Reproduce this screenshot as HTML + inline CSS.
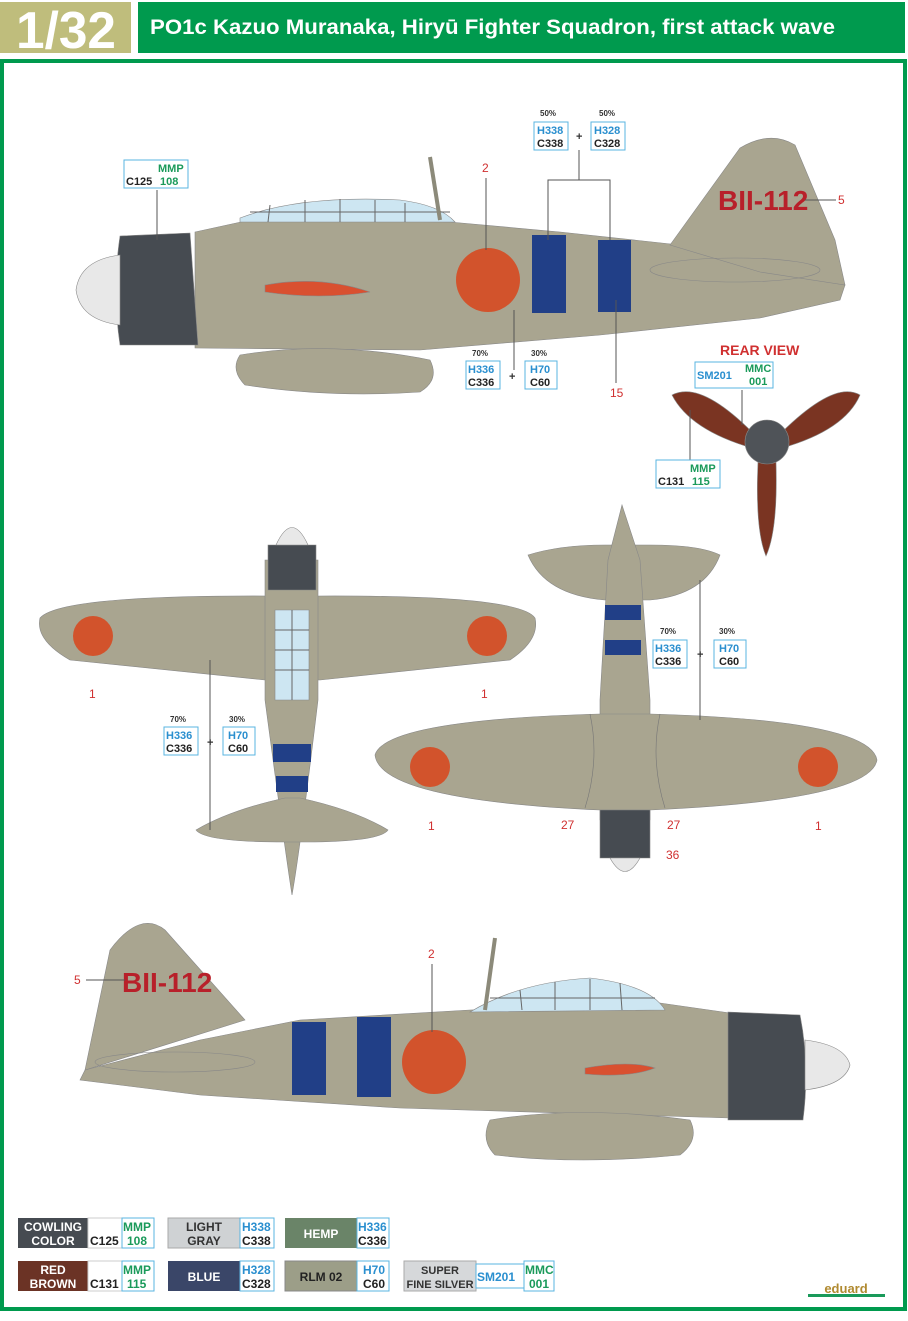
<!DOCTYPE html>
<html><head><meta charset="utf-8"><style>
html,body{margin:0;padding:0;background:#fff}
body{width:908px;height:1316px;position:relative;overflow:hidden;font-family:"Liberation Sans",sans-serif}
svg text{font-family:"Liberation Sans",sans-serif}
</style></head><body>
<svg width="908" height="1316" viewBox="0 0 908 1316" xmlns="http://www.w3.org/2000/svg">
<!-- header -->
<rect x="0" y="2" width="131" height="51" fill="#bfbd7c"/>
<text x="66" y="48" font-size="52" font-weight="bold" fill="#fff" text-anchor="middle" textLength="100" lengthAdjust="spacingAndGlyphs">1/32</text>
<rect x="138" y="2" width="767" height="51" fill="#009a4e"/>
<text x="150" y="34" font-size="21" font-weight="bold" fill="#fff" textLength="685" lengthAdjust="spacingAndGlyphs">PO1c Kazuo Muranaka, Hiryū Fighter Squadron, first attack wave</text>
<rect x="2" y="61" width="903" height="1248" fill="none" stroke="#009a4e" stroke-width="4"/>

<g stroke="#888" stroke-width="0.6">
<!-- ===== top side view ===== -->
<path d="M195 232 L250 220 L450 222 L560 232 L680 245 L760 270 L845 285 L840 300 L760 318 L600 335 L420 350 L195 348 Z" fill="#a9a590"/>
<path d="M670 245 L740 148 Q770 130 795 145 L835 240 L845 285 L760 272 Z" fill="#a9a590"/>
<path d="M240 218 Q300 195 400 200 Q440 205 455 222 L240 222Z" fill="#cde6f2"/>
<g stroke="#666" stroke-width="1"><line x1="270" y1="205" x2="268" y2="222"/><line x1="305" y1="200" x2="305" y2="222"/><line x1="340" y1="199" x2="340" y2="222"/><line x1="375" y1="200" x2="375" y2="222"/><line x1="405" y1="203" x2="405" y2="222"/><line x1="250" y1="212" x2="450" y2="212"/></g>
<line x1="440" y1="220" x2="430" y2="157" stroke="#8c8a7a" stroke-width="4"/>
<path d="M120 236 L190 233 L198 345 L120 345 Q112 290 120 236Z" fill="#464b51"/>
<path d="M120 255 Q80 260 76 290 Q80 320 120 325Z" fill="#e8e8e8"/>
<path d="M240 355 Q330 340 430 360 Q440 380 420 392 Q330 398 245 385 Q230 370 240 355Z" fill="#a9a590"/>
<path d="M265 285 Q320 275 370 292 Q320 300 265 292Z" fill="#d95030"/>
<circle cx="488" cy="280" r="32" fill="#d2532c" stroke="none"/>
<rect x="532" y="235" width="34" height="78" fill="#213f87" stroke="none"/>
<rect x="598" y="240" width="33" height="72" fill="#213f87" stroke="none"/>
<ellipse cx="735" cy="270" rx="85" ry="12" fill="none"/>

<!-- rear view -->
<path d="M752 432 Q700 380 672 395 Q690 430 752 448Z" fill="#7a3422"/>
<path d="M782 432 Q835 380 860 395 Q845 430 782 448Z" fill="#7a3422"/>
<path d="M758 462 Q755 530 766 556 Q778 530 776 462Z" fill="#7a3422"/>
<circle cx="767" cy="442" r="22" fill="#4f5358"/>

<!-- top view (left) -->
<path d="M40 618 Q60 595 270 596 L318 596 Q520 595 535 618 Q540 640 510 660 L320 680 L265 680 L70 660 Q35 640 40 618Z" fill="#a9a590"/>
<path d="M265 560 L318 560 L318 700 Q300 850 292 895 Q285 850 265 700Z" fill="#a9a590"/>
<path d="M196 830 Q230 810 285 798 L300 798 Q355 810 388 830 Q380 842 300 842 L285 842 Q205 842 196 830Z" fill="#a9a590"/>
<path d="M268 545 L316 545 L316 590 L268 590Z" fill="#464b51"/>
<path d="M276 545 Q292 510 308 545Z" fill="#e8e8e8"/>
<path d="M275 610 L309 610 L309 700 L275 700Z" fill="#cde6f2"/>
<g stroke="#666" stroke-width="1"><line x1="292" y1="610" x2="292" y2="700"/><line x1="275" y1="630" x2="309" y2="630"/><line x1="275" y1="650" x2="309" y2="650"/><line x1="275" y1="670" x2="309" y2="670"/></g>
<rect x="273" y="744" width="38" height="18" fill="#213f87" stroke="none"/>
<rect x="276" y="776" width="32" height="16" fill="#213f87" stroke="none"/>
<circle cx="93" cy="636" r="20" fill="#d2532c" stroke="none"/>
<circle cx="487" cy="636" r="20" fill="#d2532c" stroke="none"/>

<!-- bottom view (right) -->
<path d="M528 555 Q560 545 605 545 L650 545 Q700 545 720 555 Q705 595 650 600 L605 600 Q545 595 528 555Z" fill="#a9a590"/>
<path d="M608 560 L622 505 L640 560 L650 700 L650 820 L600 820 L600 700Z" fill="#a9a590"/>
<path d="M375 755 Q385 720 600 714 L650 714 Q870 720 877 760 Q870 800 650 810 L600 810 Q380 800 375 755Z" fill="#a9a590"/>
<path d="M600 810 L650 810 L650 858 L600 858Z" fill="#464b51"/>
<path d="M610 858 Q625 885 640 858Z" fill="#e8e8e8"/>
<rect x="605" y="605" width="36" height="15" fill="#213f87" stroke="none"/>
<rect x="605" y="640" width="36" height="15" fill="#213f87" stroke="none"/>
<circle cx="430" cy="767" r="20" fill="#d2532c" stroke="none"/>
<circle cx="818" cy="767" r="20" fill="#d2532c" stroke="none"/>
<path d="M590 714 Q600 760 585 808 M660 714 Q650 760 665 808" fill="none" stroke="#777"/>

<!-- bottom side view -->
<path d="M730 1013 L660 1003 L470 1010 L300 1020 L200 1040 L85 1070 L80 1080 L200 1095 L400 1108 L730 1118 Z" fill="#a9a590"/>
<path d="M85 1070 L110 950 Q140 910 165 930 L245 1020 Z" fill="#a9a590"/>
<path d="M470 1012 Q520 982 590 978 Q650 985 665 1010Z" fill="#cde6f2"/>
<g stroke="#666" stroke-width="1"><line x1="520" y1="990" x2="522" y2="1010"/><line x1="555" y1="982" x2="555" y2="1010"/><line x1="590" y1="979" x2="590" y2="1010"/><line x1="620" y1="983" x2="622" y2="1010"/><line x1="490" y1="998" x2="655" y2="998"/></g>
<line x1="485" y1="1010" x2="495" y2="938" stroke="#8c8a7a" stroke-width="4"/>
<path d="M728 1012 L800 1015 Q810 1065 803 1120 L728 1120Z" fill="#464b51"/>
<path d="M805 1040 Q845 1045 850 1065 Q845 1085 805 1090Z" fill="#e8e8e8"/>
<path d="M490 1120 Q580 1105 690 1120 Q700 1140 680 1155 Q580 1165 495 1155 Q480 1140 490 1120Z" fill="#a9a590"/>
<path d="M585 1068 Q630 1060 655 1068 Q630 1078 585 1074Z" fill="#d95030"/>
<circle cx="434" cy="1062" r="32" fill="#d2532c" stroke="none"/>
<rect x="292" y="1022" width="34" height="73" fill="#213f87" stroke="none"/>
<rect x="357" y="1017" width="34" height="80" fill="#213f87" stroke="none"/>
<ellipse cx="175" cy="1062" rx="80" ry="10" fill="none"/>
</g>

<!-- labels -->
<g font-weight="bold">
<text x="718" y="210" font-size="28" fill="#b8202a">BII-112</text>
<text x="122" y="992" font-size="28" fill="#b8202a">BII-112</text>
<text x="720" y="355" font-size="14" fill="#d03030">REAR VIEW</text>
</g>
<g font-size="12" fill="#d03030">
<text x="482" y="172">2</text><text x="838" y="204">5</text><text x="610" y="397">15</text>
<text x="89" y="698">1</text><text x="481" y="698">1</text><text x="428" y="830">1</text><text x="815" y="830">1</text>
<text x="561" y="829">27</text><text x="667" y="829">27</text><text x="666" y="859">36</text>
<text x="428" y="958">2</text><text x="74" y="984">5</text>
</g>
<g stroke="#555" stroke-width="1" fill="none">
<line x1="486" y1="178" x2="486" y2="250"/><line x1="805" y1="200" x2="836" y2="200"/>
<line x1="616" y1="300" x2="616" y2="383"/><line x1="432" y1="964" x2="432" y2="1032"/>
<line x1="86" y1="980" x2="125" y2="980"/>
<polyline points="548,240 548,180 610,180 610,240"/><line x1="579" y1="150" x2="579" y2="180"/>
<line x1="514" y1="310" x2="514" y2="370"/><line x1="157" y1="190" x2="157" y2="240"/>
<line x1="742" y1="390" x2="742" y2="425"/><line x1="690" y1="410" x2="690" y2="460"/>
<line x1="210" y1="660" x2="210" y2="830"/><line x1="700" y1="580" x2="700" y2="720"/>
</g>
<g font-size="11" font-weight="bold">
<rect x="534" y="122" width="34" height="28" fill="#fff" stroke="#5ab4e0"/><text x="537" y="134" fill="#2a8fcf">H338</text><text x="537" y="147" fill="#222">C338</text>
<rect x="591" y="122" width="34" height="28" fill="#fff" stroke="#5ab4e0"/><text x="594" y="134" fill="#2a8fcf">H328</text><text x="594" y="147" fill="#222">C328</text>
<text x="540" y="116" font-size="8" fill="#333">50%</text><text x="599" y="116" font-size="8" fill="#333">50%</text><text x="576" y="140" fill="#333">+</text>
<rect x="124" y="160" width="64" height="28" fill="#fff" stroke="#5ab4e0"/><text x="158" y="172" fill="#1a9a5a">MMP</text><text x="126" y="185" fill="#222">C125</text><text x="160" y="185" fill="#1a9a5a">108</text>
<rect x="466" y="361" width="34" height="28" fill="#fff" stroke="#5ab4e0"/><text x="468" y="373" fill="#2a8fcf">H336</text><text x="468" y="386" fill="#222">C336</text>
<rect x="525" y="361" width="32" height="28" fill="#fff" stroke="#5ab4e0"/><text x="530" y="373" fill="#2a8fcf">H70</text><text x="530" y="386" fill="#222">C60</text>
<text x="472" y="356" font-size="8" fill="#333">70%</text><text x="531" y="356" font-size="8" fill="#333">30%</text><text x="509" y="380" fill="#333">+</text>
<rect x="695" y="362" width="78" height="26" fill="#fff" stroke="#5ab4e0"/><text x="697" y="379" fill="#2a8fcf">SM201</text><text x="745" y="372" fill="#1a9a5a">MMC</text><text x="749" y="385" fill="#1a9a5a">001</text>
<rect x="656" y="460" width="64" height="28" fill="#fff" stroke="#5ab4e0"/><text x="690" y="472" fill="#1a9a5a">MMP</text><text x="658" y="485" fill="#222">C131</text><text x="692" y="485" fill="#1a9a5a">115</text>
<rect x="164" y="727" width="34" height="28" fill="#fff" stroke="#5ab4e0"/><text x="166" y="739" fill="#2a8fcf">H336</text><text x="166" y="752" fill="#222">C336</text>
<rect x="223" y="727" width="32" height="28" fill="#fff" stroke="#5ab4e0"/><text x="228" y="739" fill="#2a8fcf">H70</text><text x="228" y="752" fill="#222">C60</text>
<text x="170" y="722" font-size="8" fill="#333">70%</text><text x="229" y="722" font-size="8" fill="#333">30%</text><text x="207" y="746" fill="#333">+</text>
<rect x="653" y="640" width="34" height="28" fill="#fff" stroke="#5ab4e0"/><text x="655" y="652" fill="#2a8fcf">H336</text><text x="655" y="665" fill="#222">C336</text>
<rect x="714" y="640" width="32" height="28" fill="#fff" stroke="#5ab4e0"/><text x="719" y="652" fill="#2a8fcf">H70</text><text x="719" y="665" fill="#222">C60</text>
<text x="660" y="634" font-size="8" fill="#333">70%</text><text x="719" y="634" font-size="8" fill="#333">30%</text><text x="697" y="658" fill="#333">+</text>
</g>

<!-- legend -->
<g font-size="12" font-weight="bold">
<rect x="18" y="1218" width="70" height="30" fill="#464b51"/><text x="53" y="1231" fill="#fff" text-anchor="middle">COWLING</text><text x="53" y="1245" fill="#fff" text-anchor="middle">COLOR</text>
<rect x="88" y="1218" width="34" height="30" fill="#fff" stroke="#ccc"/><text x="90" y="1245" fill="#222">C125</text>
<rect x="122" y="1218" width="32" height="30" fill="#fff" stroke="#5ab4e0"/><text x="123" y="1231" fill="#1a9a5a">MMP</text><text x="127" y="1245" fill="#1a9a5a">108</text>
<rect x="168" y="1218" width="72" height="30" fill="#cfd2d4" stroke="#aaa"/><text x="204" y="1231" fill="#333" text-anchor="middle">LIGHT</text><text x="204" y="1245" fill="#333" text-anchor="middle">GRAY</text>
<rect x="240" y="1218" width="34" height="30" fill="#fff" stroke="#5ab4e0"/><text x="242" y="1231" fill="#2a8fcf">H338</text><text x="242" y="1245" fill="#222">C338</text>
<rect x="285" y="1218" width="72" height="30" fill="#6a8468"/><text x="321" y="1238" fill="#fff" text-anchor="middle">HEMP</text>
<rect x="357" y="1218" width="32" height="30" fill="#fff" stroke="#5ab4e0"/><text x="358" y="1231" fill="#2a8fcf">H336</text><text x="358" y="1245" fill="#222">C336</text>
<rect x="18" y="1261" width="70" height="30" fill="#6b3325"/><text x="53" y="1274" fill="#fff" text-anchor="middle">RED</text><text x="53" y="1288" fill="#fff" text-anchor="middle">BROWN</text>
<rect x="88" y="1261" width="34" height="30" fill="#fff" stroke="#ccc"/><text x="90" y="1288" fill="#222">C131</text>
<rect x="122" y="1261" width="32" height="30" fill="#fff" stroke="#5ab4e0"/><text x="123" y="1274" fill="#1a9a5a">MMP</text><text x="127" y="1288" fill="#1a9a5a">115</text>
<rect x="168" y="1261" width="72" height="30" fill="#3a4668"/><text x="204" y="1281" fill="#fff" text-anchor="middle">BLUE</text>
<rect x="240" y="1261" width="34" height="30" fill="#fff" stroke="#5ab4e0"/><text x="242" y="1274" fill="#2a8fcf">H328</text><text x="242" y="1288" fill="#222">C328</text>
<rect x="285" y="1261" width="72" height="30" fill="#9c9e88" stroke="#888"/><text x="321" y="1281" fill="#222" text-anchor="middle">RLM 02</text>
<rect x="357" y="1261" width="32" height="30" fill="#fff" stroke="#5ab4e0"/><text x="363" y="1274" fill="#2a8fcf">H70</text><text x="363" y="1288" fill="#222">C60</text>
<rect x="404" y="1261" width="72" height="30" fill="#d6d8da" stroke="#aaa"/><text x="440" y="1274" fill="#333" text-anchor="middle" font-size="11">SUPER</text><text x="440" y="1288" fill="#333" text-anchor="middle" font-size="11">FINE SILVER</text>
<rect x="476" y="1264" width="48" height="24" fill="#fff" stroke="#5ab4e0"/><text x="477" y="1281" fill="#2a8fcf">SM201</text>
<rect x="524" y="1261" width="30" height="30" fill="#fff" stroke="#5ab4e0"/><text x="525" y="1274" fill="#1a9a5a">MMC</text><text x="529" y="1288" fill="#1a9a5a">001</text>
</g>
<rect x="808" y="1294" width="77" height="3" fill="#1a9a5a"/>
<text x="846" y="1293" font-size="13" font-weight="bold" fill="#b08a30" text-anchor="middle">eduard</text>
</svg>
</body></html>
